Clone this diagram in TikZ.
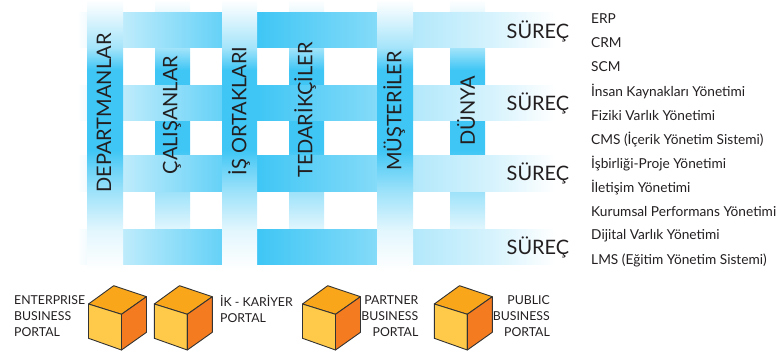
\documentclass[tikz,border=0pt]{standalone}
\usepackage{fontspec}
\setmainfont{Lato}
\definecolor{bluestrong}{HTML}{3FC6F5}
\definecolor{txt}{HTML}{231F20}
\definecolor{cubetop}{HTML}{FAA61A}
\definecolor{cubeleft}{HTML}{FFC94A}
\definecolor{cuberight}{HTML}{F47B20}
\pgfdeclarehorizontalshading{rowshade}{100bp}{color(0bp)=(white); color(25bp)=(white); color(26.04bp)=(white!93!bluestrong); color(29.76bp)=(white!66!bluestrong); color(40bp)=(white!20!bluestrong); color(43.63bp)=(bluestrong); color(56.06bp)=(white!36!bluestrong); color(59.79bp)=(white!60!bluestrong); color(67.75bp)=(white!78!bluestrong); color(74.5bp)=(white); color(100bp)=(white)}
\pgfdeclareverticalshading{colshade}{100bp}{color(0bp)=(white); color(25bp)=(white); color(32.4bp)=(white!85!bluestrong); color(39.4bp)=(white!50!bluestrong); color(43.5bp)=(white!25!bluestrong); color(47.2bp)=(bluestrong); color(62.04bp)=(bluestrong); color(66.1bp)=(white!52!bluestrong); color(72.6bp)=(white!88!bluestrong); color(75bp)=(white); color(100bp)=(white)}
\tikzset{
  rowbar/.style={shading=rowshade},
  colbar/.style={shading=colshade},
  cubeedge/.style={draw=black!80,line width=0.9pt,line join=round},
  collabel/.style={rotate=90,anchor=center,inner sep=0pt,text=txt,font=\fontsize{20}{20}\selectfont},
  rowlabel/.style={anchor=west,inner sep=0pt,text=txt,font=\fontsize{19.9}{20}\selectfont},
  sysitem/.style={anchor=west,inner sep=0pt,text=txt,font=\fontsize{13.7}{14}\selectfont},
  portalleft/.style={anchor=north west,align=left,inner sep=0pt,text=txt,font=\fontsize{12.3}{16}\selectfont},
  portalright/.style={anchor=north east,align=right,inner sep=0pt,text=txt,font=\fontsize{12.3}{16}\selectfont}
}
\newcommand{\cubeat}[1]{%
  \begin{scope}[shift={(#1,0)}]
    \fill[cubetop,cubeedge] (88.5,304) -- (113.7,285.7) -- (146.5,296.7) -- (121.5,314.3) -- cycle;
    \fill[cubeleft,cubeedge] (88.5,304) -- (121.5,314.3) -- (121.5,350) -- (88.5,338.3) -- cycle;
    \fill[cuberight,cubeedge] (121.5,314.3) -- (146.5,296.7) -- (146.5,332.3) -- (121.5,350) -- cycle;
  \end{scope}}
\begin{document}
\begin{tikzpicture}[x=1pt,y=-1pt]
\useasboundingbox (0,0) rectangle (778,352);
% columns under the rows
\begin{scope}
  \clip (0,0) rectangle (778,231);
  \shade[colbar] (155,0) rectangle (190,270);
  \shade[colbar] (289,0) rectangle (324,270);
  \shade[colbar] (450,0) rectangle (485,270);
\end{scope}
% rows
\shade[rowbar] (77,13) rectangle (560,48);
\shade[rowbar] (77,86) rectangle (560,121);
\shade[rowbar] (77,156) rectangle (560,192);
\shade[rowbar] (77,230) rectangle (560,265);
% columns over the rows
\shade[colbar] (87,0) rectangle (123,270);
\shade[colbar] (222,0) rectangle (257,270);
\shade[colbar] (377,0) rectangle (413,270);
% column labels
\node[collabel] (c1) at (104,113) {DEPARTMANLAR};
\node[collabel] (c2) at (172,115) {ÇALIŞANLAR};
\node[collabel] (c3) at (239,111) {İŞ ORTAKLARI};
\node[collabel] (c4) at (305,110) {TEDARİKÇİLER};
\node[collabel] (c5) at (394,111) {MÜŞTERİLER};
\node[collabel] (c6) at (466,111) {DÜNYA};
% row labels
\node[rowlabel] (r1) at (506.5,31) {SÜREÇ};
\node[rowlabel] (r2) at (506.5,103) {SÜREÇ};
\node[rowlabel] (r3) at (506.5,173) {SÜREÇ};
\node[rowlabel] (r4) at (506.5,247) {SÜREÇ};
% systems list
\node[sysitem] (s1) at (591,19) {ERP};
\node[sysitem] (s2) at (591,43) {CRM};
\node[sysitem] (s3) at (591,67) {SCM};
\node[sysitem] (s4) at (591,91.5) {İnsan Kaynakları Yönetimi};
\node[sysitem] (s5) at (591,116) {Fiziki Varlık Yönetimi};
\node[sysitem] (s6) at (591,140) {CMS (İçerik Yönetim Sistemi)};
\node[sysitem] (s7) at (591,164) {İşbirliği-Proje Yönetimi};
\node[sysitem] (s8) at (591,188) {İletişim Yönetimi};
\node[sysitem] (s9) at (591,212) {Kurumsal Performans Yönetimi};
\node[sysitem] (s10) at (591,236) {Dijital Varlık Yönetimi};
\node[sysitem] (s11) at (591,260) {LMS (Eğitim Yönetim Sistemi)};
% cubes
\cubeat{0}
\cubeat{65.8}
\cubeat{214}
\cubeat{345.8}
% portal labels
\node[portalleft] (p1) at (14,295.5) {ENTERPRISE\\BUSINESS\\PORTAL};
\node[portalleft] (p2) at (220,295.5) {İK - KARİYER\\PORTAL};
\node[portalright] (p3) at (418.5,295.5) {PARTNER\\BUSINESS\\PORTAL};
\node[portalright] (p4) at (550,295.5) {PUBLIC\\BUSINESS\\PORTAL};
\end{tikzpicture}
\end{document}
